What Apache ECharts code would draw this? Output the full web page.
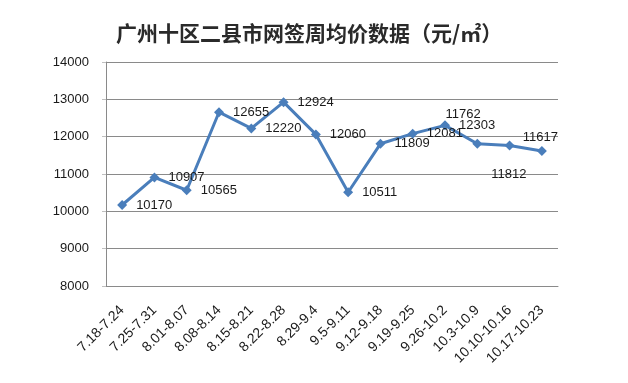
<!DOCTYPE html>
<html>
<head>
<meta charset="utf-8">
<script src="https://cdn.jsdelivr.net/npm/echarts@6/dist/echarts.min.js"></script>
<style>
html,body{margin:0;padding:0;background:#fff;}
#c{width:628px;height:383px;}
</style>
</head>
<body>
<div id="c"></div>
<script>
var titleText = '广州十区二县市网签周均价数据（元/㎡）';
var categories = ['7.18-7.24','7.25-7.31','8.01-8.07','8.08-8.14','8.15-8.21','8.22-8.28','8.29-9.4','9.5-9.11','9.12-9.18','9.19-9.25','9.26-10.2','10.3-10.9','10.10-10.16','10.17-10.23'];
var prices = [10170,10907,10565,12655,12220,12924,12060,10511,11809,12081,12303,11812,11762,11617];
var yTicks = {min: 8000, max: 14000, interval: 1000};
// label offsets for the few labels that are not placed plainly to the right
var labelOffsets = {11: [0, 31], 12: [-78, -31], 13: [-33, -14]};

var data = prices.map(function (v, i) {
  var d = {value: v};
  if (labelOffsets[i]) d.label = {offset: labelOffsets[i]};
  return d;
});

var chart = echarts.init(document.getElementById('c'), null, {renderer: 'canvas'});
chart.setOption({
  backgroundColor: '#ffffff',
  animation: false,
  title: {
    text: titleText,
    left: 111,
    top: 18,
    textStyle: {fontFamily: 'Noto Sans CJK SC', fontSize: 21, fontWeight: 'bold', color: '#2a2a2a'}
  },
  grid: {left: 106, right: 70, top: 62, bottom: 97},
  xAxis: {
    type: 'category',
    data: categories,
    boundaryGap: true,
    axisLine: {lineStyle: {color: '#8a8a8a', width: 1}},
    axisTick: {show: false},
    axisLabel: {
      rotate: 45, interval: 0, margin: 22,
      fontFamily: 'Liberation Sans', fontSize: 14, color: '#1a1a1a'
    }
  },
  yAxis: {
    type: 'value',
    min: yTicks.min, max: yTicks.max, interval: yTicks.interval,
    axisLine: {show: true, lineStyle: {color: '#8a8a8a', width: 1}},
    axisTick: {show: true, length: 4, lineStyle: {color: '#c0c0c0'}},
    axisLabel: {
      margin: 17, fontFamily: 'Liberation Sans', fontSize: 13, color: '#1a1a1a',
      formatter: function (v) { return String(v); }
    },
    splitLine: {lineStyle: {color: '#8a8a8a', width: 1}}
  },
  series: [{
    type: 'line',
    data: data,
    symbol: 'diamond',
    symbolSize: 10,
    lineStyle: {color: '#4a7ebb', width: 3},
    itemStyle: {color: '#4a7ebb'},
    label: {
      show: true, position: 'right', distance: 9,
      fontFamily: 'Liberation Sans', fontSize: 13, color: '#1a1a1a'
    }
  }]
});
</script>
</body>
</html>
